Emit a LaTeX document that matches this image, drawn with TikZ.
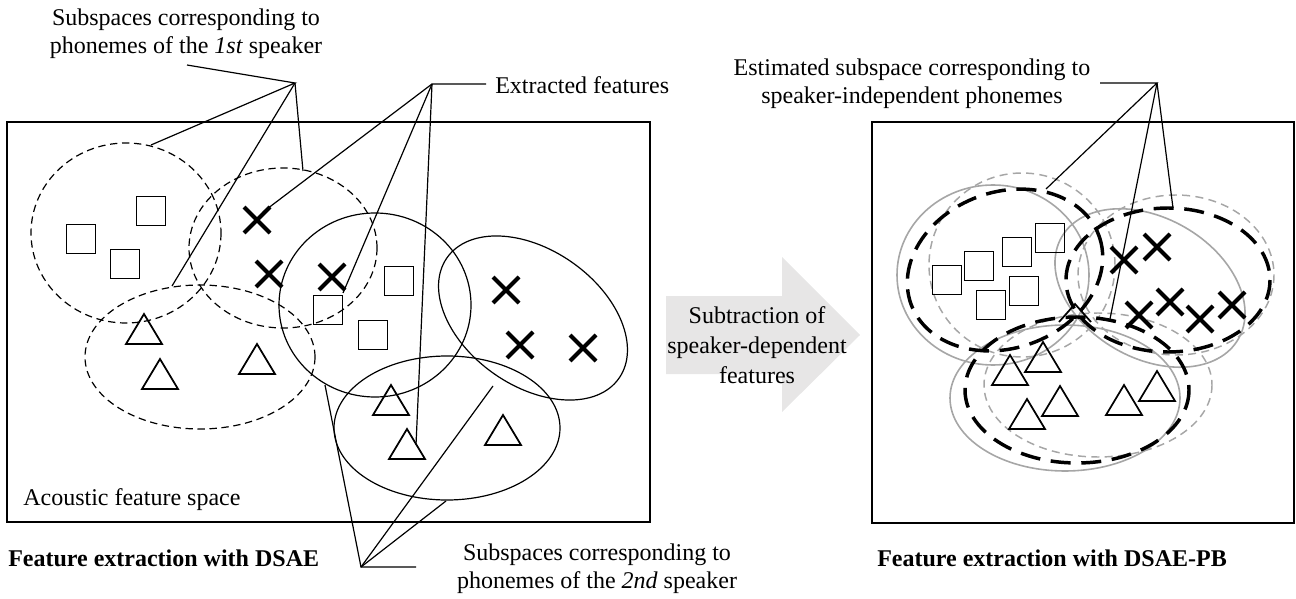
\documentclass[tikz,border=0pt]{standalone}
\usepackage{fontspec}
\setmainfont{Liberation Serif}
\definecolor{cgray}{HTML}{A6A6A6}
\definecolor{arrowgray}{HTML}{E7E6E6}
\begin{document}
\begin{tikzpicture}[x=0.75pt,y=-0.75pt,
  font=\fontsize{18}{21}\selectfont,
  lbl/.style={inner sep=0pt, align=center},
  frame/.style={draw=black, line width=1.5pt},
  ptr/.style={draw=black, line width=0.9pt},
  spkone/.style={draw=black, line width=0.9pt, dash pattern=on 5.5pt off 3.5pt},
  spktwo/.style={draw=black, line width=0.9pt},
  gsolid/.style={draw=cgray, line width=1.2pt},
  gdash/.style={draw=cgray, line width=1.1pt, dash pattern=on 6pt off 4pt},
  est/.style={draw=black, line width=2.6pt, dash pattern=on 15pt off 8pt},
  mk/.style={draw=black, line width=1.3pt},
  xk/.style={draw=black, line width=3pt},
  sqm/.pic={\draw[mk] (-14.5,-14.5) rectangle (14.5,14.5);},
  trm/.pic={\draw[mk] (0,-15) -- (18,15) -- (-18,15) -- cycle;},
  xm/.pic={\draw[xk] (-13,-13) -- (13,13) (-13,13) -- (13,-13);}
]
\useasboundingbox (0,0) rectangle (1296,599);

% ---------- frames ----------
\draw[frame] (7,122) rectangle (650,522);
\draw[frame] (872,122) rectangle (1294,523);

% ---------- block arrow ----------
\fill[arrowgray] (666,296) -- (782,296) -- (782,257) -- (860,335) -- (782,412) -- (782,374) -- (666,374) -- cycle;
\node[lbl, font=\fontsize{18}{22.5}\selectfont] (arrowtxt) at (757,345) {Subtraction of\\speaker-dependent\\features};

% ---------- left panel ellipses ----------
\draw[spkone] (126,233) ellipse [x radius=95, y radius=90];
\draw[spkone] (283,248) ellipse [x radius=94, y radius=80];
\draw[spkone] (200,357) ellipse [x radius=115, y radius=72];
\draw[spktwo] (375,305) ellipse [x radius=96, y radius=92];
\draw[spktwo, rotate around={-35:(533,318)}] (533,318) ellipse [x radius=105, y radius=68];
\draw[spktwo] (447,428) ellipse [x radius=113, y radius=72];

% ---------- left panel markers ----------
\pic at (151,211) {sqm};
\pic at (81,239) {sqm};
\pic at (125,264) {sqm};
\pic at (399,281) {sqm};
\pic at (328,310) {sqm};
\pic at (373,335) {sqm};
\pic at (257,220) {xm};
\pic at (269,274) {xm};
\pic at (332,277) {xm};
\pic at (506,290) {xm};
\pic at (520,345) {xm};
\pic at (583,348) {xm};
\pic at (144,329) {trm};
\pic at (160,374) {trm};
\pic at (257,359) {trm};
\pic at (391,400) {trm};
\pic at (407,444) {trm};
\pic at (503,430) {trm};

% ---------- right panel ellipses (gray) ----------
\draw[gsolid] (993,275) ellipse [x radius=96, y radius=90];
\draw[gdash] (1022,265) ellipse [x radius=93, y radius=92];
\draw[gsolid, rotate around={-30:(1150,288)}] (1150,288) ellipse [x radius=102, y radius=70];
\draw[gdash] (1176,275) ellipse [x radius=98, y radius=80];
\draw[gsolid] (1065,398) ellipse [x radius=115, y radius=73];
\draw[gdash] (1098,385) ellipse [x radius=114, y radius=72];

% ---------- right panel markers ----------
\pic at (947,280) {sqm};
\pic at (979,266) {sqm};
\pic at (1017,252) {sqm};
\pic at (1050,238) {sqm};
\pic at (991,305) {sqm};
\pic at (1024,291) {sqm};
\pic at (1124,260) {xm};
\pic at (1157,247) {xm};
\pic at (1139,315) {xm};
\pic at (1170,302) {xm};
\pic at (1200,319) {xm};
\pic at (1232,305) {xm};
\pic at (1010,370) {trm};
\pic at (1043,357) {trm};
\pic at (1060,401) {trm};
\pic at (1027,414) {trm};
\pic at (1124,400) {trm};
\pic at (1157,386) {trm};
\draw[mk] (1059,322) -- (1075,304) -- (1091,322);

% ---------- right panel estimated (black dashed) ----------
\draw[est, rotate around={20:(1005,270)}] (1005,270) ellipse [x radius=100, y radius=78];
\draw[est] (1168,280) ellipse [x radius=102, y radius=72];
\draw[est] (1077,390) ellipse [x radius=112, y radius=73];

% ---------- labels ----------
\node[lbl] (lblone) at (186,34) {Subspaces corresponding to\\phonemes of the \textit{1st} speaker};
\node[lbl, anchor=west] (lblext) at (495,85) {Extracted features};
\node[lbl] (lblest) at (912,84) {Estimated subspace corresponding to\\speaker-independent phonemes};
\node[lbl] (lbltwo) at (597,569) {Subspaces corresponding to\\phonemes of the \textit{2nd} speaker};
\node[lbl, anchor=west] (lblspace) at (23,500) {Acoustic feature space};
\node[lbl, anchor=west, font=\fontsize{18}{21}\selectfont\bfseries] (capl) at (8,558) {Feature extraction with DSAE};
\node[lbl, anchor=west, font=\fontsize{18}{21}\selectfont\bfseries] (capr) at (877,558) {Feature extraction with DSAE-PB};

% ---------- pointer coordinates ----------
\coordinate (pa) at (295,83);
\coordinate (pa0) at (187,65);
\coordinate (pa1) at (151,145);
\coordinate (pa2) at (303,171);
\coordinate (pa3) at (172,286);
\coordinate (pb) at (432,84);
\coordinate (pb0) at (486,84);
\coordinate (pb1) at (263,212);
\coordinate (pb2) at (343,293);
\coordinate (pb3) at (416,445);
\coordinate (pc) at (361,567);
\coordinate (pc0) at (416,567);
\coordinate (pc1) at (325,385);
\coordinate (pc2) at (493,386);
\coordinate (pc3) at (446,501);
\coordinate (pd) at (1157,83);
\coordinate (pd0) at (1100,83);
\coordinate (pd1) at (1046,189);
\coordinate (pd2) at (1110,319);
\coordinate (pd3) at (1173,208);

\draw[ptr] (pa0) -- (pa) -- (pa1);
\draw[ptr] (pa) -- (pa2);
\draw[ptr] (pa) -- (pa3);
\draw[ptr] (pb0) -- (pb) -- (pb1);
\draw[ptr] (pb) -- (pb2);
\draw[ptr] (pb) -- (pb3);
\draw[ptr] (pc0) -- (pc) -- (pc1);
\draw[ptr] (pc) -- (pc2);
\draw[ptr] (pc) -- (pc3);
\draw[ptr] (pd0) -- (pd) -- (pd1);
\draw[ptr] (pd) -- (pd2);
\draw[ptr] (pd) -- (pd3);
\end{tikzpicture}
\end{document}
